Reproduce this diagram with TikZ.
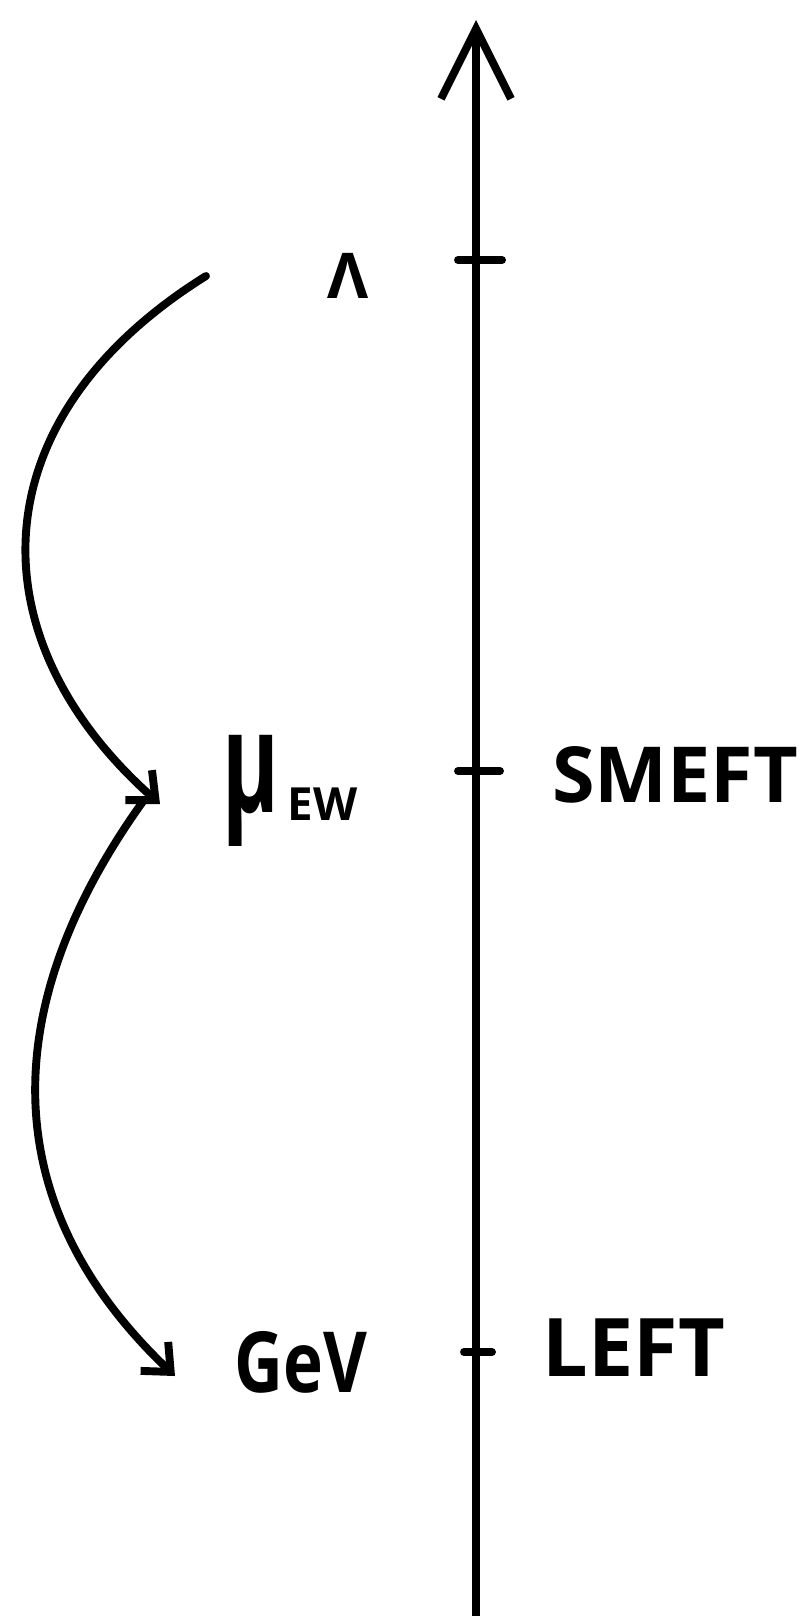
\documentclass[tikz,border=0pt]{standalone}
\usepackage{fontspec}
\setmainfont{Open Sans}
\usepackage{tikz}
\usetikzlibrary{arrows.meta,positioning}

\begin{document}
\begin{tikzpicture}[x=0.02cm,y=-0.02cm,
          axis/.style={line width=4.5pt,line cap=round,
                       -{Straight Barb[length=1.4cm,width=1.4cm,line width=4.5pt]}},
          tick/.style={line width=4.5pt,line cap=round},
          flow/.style={line width=4.5pt,line cap=round,
                       -{Straight Barb[length=0.45cm,width=0.8cm,line width=4.5pt]}},
          lbl/.style={inner sep=0pt,font=\bfseries\fontsize{44}{50}\selectfont},
        ]
        \useasboundingbox (0,0) rectangle (810,1616);
        % Achse
        \coordinate (bot) at (476,1616);
        \coordinate (top) at (476,20);
        \draw[axis] (bot) -- (top);
        % Striche
        \foreach \y/\a/\b in {260/458/502,771/458/500,1352/464/492}{
          \draw[tick] (\a,\y) -- (\b,\y);
        }
        % Skalen
        \node[lbl,font=\bfseries\fontsize{36}{40}\selectfont] (lam) at (348,276) {Λ};
        \node[lbl,anchor=base west] (mu) at (222,812)
          {\scalebox{0.7}[1.15]{\fontsize{70}{70}\selectfont μ}\hspace{5pt}%
           \raisebox{-5pt}{\fontsize{26}{30}\selectfont EW}};
        \node[lbl] (gev) at (301,1362)
          {\scalebox{0.8}[1]{\fontsize{48}{54}\selectfont GeV}};
        % Theorien
        \node[lbl] (smeft) at (675,775) {SMEFT};
        \node[lbl,font=\bfseries\fontsize{46}{52}\selectfont] (left) at (634,1348) {LEFT};
        % Pfeile
        \coordinate (a1) at (206,276);
        \coordinate (a2) at (160,804);
        \coordinate (b1) at (144,800);
        \coordinate (b2) at (175,1376);
        \draw[flow] (a1) .. controls (-25,420) and (-25,640) .. (a2);
        \draw[flow] (b1) .. controls (0,1000) and (-10,1200) .. (b2);
      \end{tikzpicture}
\end{document}
